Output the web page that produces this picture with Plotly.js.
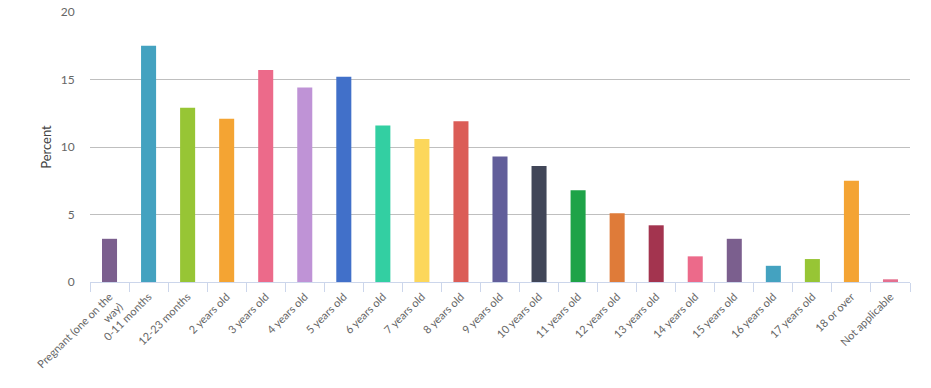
<!DOCTYPE html>
<html>
<head>
<meta charset="utf-8">
<script src="https://cdn.plot.ly/plotly-3.0.1.min.js"></script>
<style>html,body{margin:0;padding:0;background:#fff}#chart{width:931px;height:388px}</style>
</head>
<body>
<div id="chart"></div>
<script>
const categories = ["Pregnant (one on the<br>way)", "0-11 months", "12-23 months", "2 years old", "3 years old", "4 years old", "5 years old", "6 years old", "7 years old", "8 years old", "9 years old", "10 years old", "11 years old", "12 years old", "13 years old", "14 years old", "15 years old", "16 years old", "17 years old", "18 or over", "Not applicable"];
const percentValues = [3.2, 17.5, 12.9, 12.1, 15.7, 14.4, 15.2, 11.6, 10.6, 11.9, 9.3, 8.6, 6.8, 5.1, 4.2, 1.9, 3.2, 1.2, 1.7, 7.5, 0.2];
const barColors = ["#7b5f8e", "#44a2c0", "#97c535", "#f4a433", "#ec6a8a", "#bf93d6", "#4170c9", "#33cfa2", "#fcd75b", "#db5d57", "#625e9a", "#414658", "#1ea348", "#df7b39", "#a3344f", "#ec6a8a", "#7b5f8e", "#44a2c0", "#97c535", "#f4a433", "#e4708f"];
const yTitle = "Percent";

const trace = {
  type: "bar",
  x: categories,
  y: percentValues,
  marker: {color: barColors, line: {width: 0}},
  hoverinfo: "x+y"
};
const layout = {
  width: 931, height: 388,
  margin: {l: 90, r: 21, t: 12, b: 106, pad: 0},
  paper_bgcolor: "#fff", plot_bgcolor: "#fff",
  bargap: 0.615,
  showlegend: false,
  font: {family: "Lato, 'Open Sans', sans-serif", color: "#666"},
  xaxis: {
    type: "category",
    tickangle: -45,
    tickson: "boundaries",
    ticks: "outside", ticklen: 9, tickcolor: "#ccd6eb", tickwidth: 1,
    ticklabelstandoff: 3,
    showline: true, linecolor: "#ccd6eb", linewidth: 1,
    showgrid: false,
    tickfont: {size: 11, color: "#666"},
    automargin: false
  },
  yaxis: {
    range: [0, 20],
    tickvals: [0, 5, 10, 15, 20],
    showgrid: true, gridcolor: "#bfbfbf", gridwidth: 1,
    zeroline: false, showline: false,
    ticks: "outside", ticklen: 12, tickcolor: "rgba(0,0,0,0)",
    tickfont: {size: 12, color: "#666"},
    title: {text: yTitle, font: {size: 13, color: "#444"}, standoff: 6},
    automargin: false
  }
};
Plotly.newPlot("chart", [trace], layout, {displayModeBar: false, responsive: false});
</script>
</body>
</html>
